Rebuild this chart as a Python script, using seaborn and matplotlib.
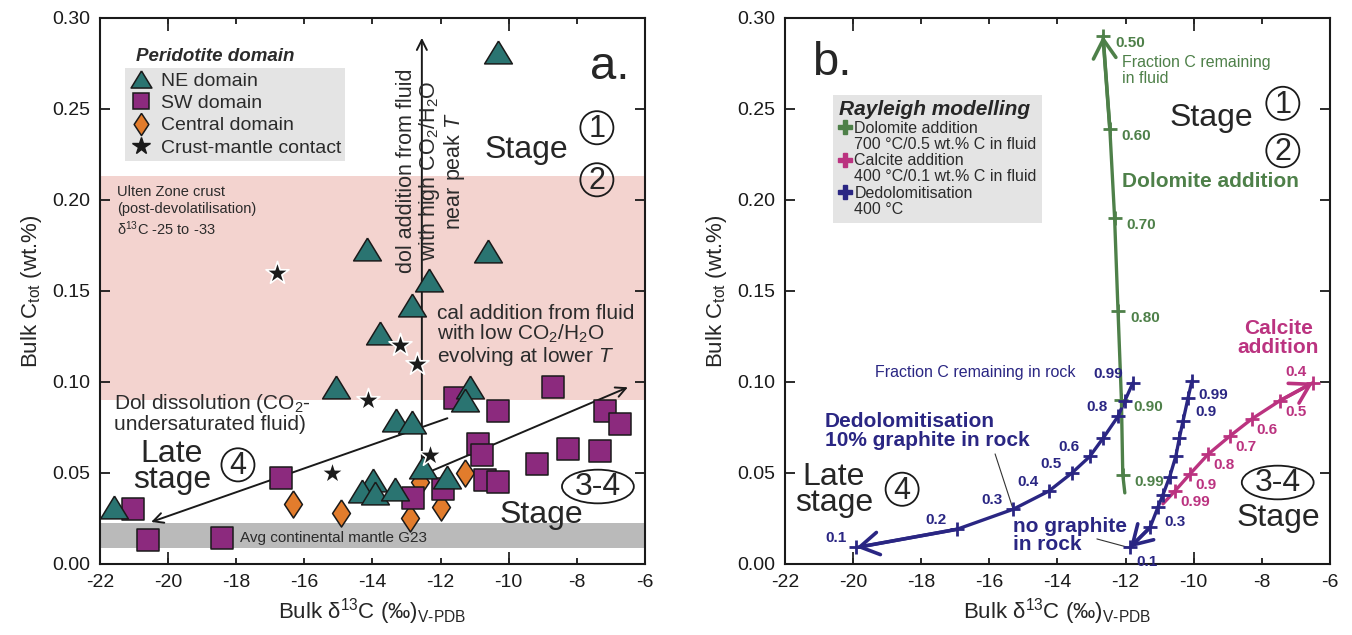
import matplotlib.pyplot as plt
import matplotlib.ticker as mticker
from matplotlib.lines import Line2D
from matplotlib.patches import Ellipse
import pandas as pd
import seaborn as sns

# ---- panel a: bulk samples, d13C (permil) vs Ctot (wt.%) ----
NE_X = [-10.3, -14.15, -10.6, -12.35, -12.85, -13.78, -15.07, -13.3, -12.84,
        -11.14, -11.28, -13.98, -14.3, -13.93, -13.34, -12.52, -11.81, -21.6]
NE_Y = [0.281, 0.173, 0.172, 0.156, 0.142, 0.127, 0.097, 0.079, 0.078,
        0.097, 0.090, 0.046, 0.040, 0.039, 0.041, 0.053, 0.048, 0.031]

SW_X = [-21.03, -20.6, -18.42, -16.7, -12.8, -11.93, -11.58, -10.9, -10.78,
        -10.7, -10.31, -10.31, -8.7, -9.17, -8.26, -7.32, -7.17, -6.73]
SW_Y = [0.030, 0.013, 0.014, 0.047, 0.036, 0.041, 0.091, 0.066, 0.060,
        0.046, 0.045, 0.084, 0.097, 0.055, 0.063, 0.062, 0.084, 0.077]

CEN_X = [-16.33, -14.92, -12.9, -12.0, -12.6, -11.28]
CEN_Y = [0.033, 0.028, 0.025, 0.031, 0.045, 0.050]

STAR_X = [-16.8, -13.19, -12.7, -14.13, -15.19, -12.31]
STAR_Y = [0.160, 0.120, 0.110, 0.090, 0.050, 0.060]

# ---- panel b: Rayleigh model curves (None = no tick, "" = unlabelled tick) ----
DOL_X = [-12.02, -12.08, -12.12, -12.22, -12.32, -12.46, -12.66]
DOL_Y = [0.039, 0.049, 0.090, 0.139, 0.190, 0.239, 0.290]
DOL_LAB = [None, "0.99", "0.90", "0.80", "0.70", "0.60", "0.50"]

DEDG_X = [-11.78, -12.02, -12.22, -12.66, -13.05, -13.57, -14.25, -15.3, -16.95, -19.9]
DEDG_Y = [0.0995, 0.0896, 0.081, 0.069, 0.059, 0.050, 0.040, 0.030, 0.019, 0.009]
DEDG_LAB = ["0.99", "", "0.8", "", "0.6", "0.5", "0.4", "0.3", "0.2", "0.1"]

DEDN_X = [-10.05, -10.16, -10.31, -10.42, -10.52, -10.7, -10.9, -11.05, -11.28, -11.87]
DEDN_Y = [0.1005, 0.0914, 0.0786, 0.069, 0.0593, 0.048, 0.038, 0.031, 0.020, 0.009]
DEDN_LAB = ["0.99", "0.9", "", "", "", "", "", "0.3", "", "0.1"]

CAL_X = [-10.9, -10.55, -10.11, -9.57, -8.93, -8.30, -7.47, -6.49]
CAL_Y = [0.033, 0.040, 0.0493, 0.0603, 0.0703, 0.0795, 0.0896, 0.0996]
CAL_LAB = [None, "0.99", "0.9", "0.8", "0.7", "0.6", "0.5", "0.4"]

TEAL = "#2a7471"
PURPLE = "#8c2a7e"
ORANGE = "#e27c2c"
GREEN = "#4e8049"
MAGENTA = "#bb3380"
NAVY = "#2a2683"
TXT = "#2b2b2b"

TRI = [(0, 0.82), (-1, -0.82), (1, -0.82), (0, 0.82)]
DIAM = [(0, 1), (0.66, 0), (0, -1), (-0.66, 0), (0, 1)]

sns.set_theme(style="ticks")
plt.rcParams["font.family"] = ["Liberation Sans", "DejaVu Sans"]
plt.rcParams["mathtext.fontset"] = "custom"
plt.rcParams["mathtext.rm"] = "Liberation Sans"
plt.rcParams["mathtext.it"] = "Liberation Sans:italic"
plt.rcParams["mathtext.bf"] = "Liberation Sans:bold"
plt.rcParams["axes.unicode_minus"] = False


def style_axes(ax):
    ax.set_xlim(-22, -6)
    ax.set_ylim(0, 0.30)
    ax.xaxis.set_major_locator(mticker.MultipleLocator(2))
    ax.xaxis.set_major_formatter(mticker.FuncFormatter(lambda v, p: f"{v:.0f}"))
    ax.yaxis.set_major_locator(mticker.MultipleLocator(0.05))
    ax.yaxis.set_major_formatter(mticker.FormatStrFormatter("%.2f"))
    ax.xaxis.set_minor_locator(mticker.FixedLocator([-20, -10]))
    ax.xaxis.remove_overlapping_locs = False
    ax.tick_params(which="major", direction="in", top=True, right=True,
                   labelsize=14, pad=7, width=1.3, colors="k")
    ax.tick_params(axis="x", which="major", length=4.5)
    ax.tick_params(axis="y", which="major", length=7)
    ax.tick_params(axis="x", which="minor", direction="in", top=True,
                   length=9, width=1.3)
    for s in ax.spines.values():
        s.set_linewidth(1.5)
        s.set_color("k")
    ax.set_xlabel("Bulk δ$^{13}$C (‰)$_{\\rm V\u2010PDB}$", fontsize=16, labelpad=4)
    ax.set_ylabel(r"Bulk C$_{\rm tot}$ (wt.%)", fontsize=16, labelpad=6)


def circled(ax, x, y, s, w=0.97, h=0.0182, fs=22):
    ax.text(x, y - 0.0008, s, fontsize=fs, ha="center", va="center", zorder=6)
    ax.add_patch(Ellipse((x, y), w, h, fill=False, lw=1.3, ec="k", zorder=6))


def draw_curve(ax, xs, ys, labs, color, dx, dy, ha, end_above=False):
    df = pd.DataFrame({"x": xs, "y": ys})
    sns.lineplot(data=df, x="x", y="y", sort=False, estimator=None, color=color,
                 lw=2.4, ax=ax, zorder=3, legend=False)
    tk = df[[lab is not None for lab in labs]]
    sns.scatterplot(data=tk, x="x", y="y", marker="+", s=90, color=color,
                    linewidth=2.0, ax=ax, zorder=4, legend=False)
    ax.annotate("", xy=(xs[-1], ys[-1]), xytext=(xs[-2], ys[-2]),
                arrowprops=dict(arrowstyle="->,head_length=0.75,head_width=0.45",
                                lw=2.6, color=color, shrinkA=0, shrinkB=0,
                                mutation_scale=18), zorder=4)
    for i, (x, y, lab) in enumerate(zip(xs, ys, labs)):
        if not lab:
            continue
        if end_above and i == len(xs) - 1:
            ax.text(x - 0.5, y + 0.006, lab, color=color, fontsize=11,
                    fontweight="bold", ha="center", va="center")
        else:
            ax.text(x + dx, y + dy, lab, color=color, fontsize=11,
                    fontweight="bold", ha=ha, va="center")


fig = plt.figure(figsize=(13.52, 6.35), dpi=100)
ax_a = fig.add_axes([0.074, 0.112, 0.403, 0.860])
ax_b = fig.add_axes([0.5806, 0.112, 0.403, 0.860])

# ================= panel a =================
ax = ax_a
ax.axhspan(0.09, 0.213, color="#f3d3cf", lw=0, zorder=0)
ax.axhspan(0.0088, 0.0225, color="#bababa", lw=0, zorder=0)

samples = pd.concat([
    pd.DataFrame({"x": CEN_X, "y": CEN_Y, "domain": "Central domain"}),
    pd.DataFrame({"x": SW_X, "y": SW_Y, "domain": "SW domain"}),
    pd.DataFrame({"x": NE_X, "y": NE_Y, "domain": "NE domain"}),
    pd.DataFrame({"x": STAR_X, "y": STAR_Y, "domain": "Crust-mantle contact"}),
])
marker_kw = {
    "Central domain": dict(marker=DIAM, s=380, color=ORANGE, edgecolor="k", linewidth=1.1),
    "SW domain": dict(marker="s", s=260, color=PURPLE, edgecolor="k", linewidth=1.1),
    "NE domain": dict(marker=TRI, s=400, color=TEAL, edgecolor="k", linewidth=1.1),
    "Crust-mantle contact": dict(marker="*", s=300, color="k", edgecolor="white", linewidth=1.2),
}
for dom, kw in marker_kw.items():
    sns.scatterplot(data=samples[samples["domain"] == dom], x="x", y="y",
                    ax=ax, legend=False, zorder=3, **kw)

arrow_kw = dict(arrowstyle="->", lw=1.4, color="k", shrinkA=0, shrinkB=0, mutation_scale=18)
ax.annotate("", xy=(-12.55, 0.289), xytext=(-12.55, 0.053), arrowprops=arrow_kw, zorder=2)
ax.annotate("", xy=(-20.5, 0.023), xytext=(-11.8, 0.080), arrowprops=arrow_kw, zorder=2)
ax.annotate("", xy=(-6.5, 0.097), xytext=(-12.4, 0.050), arrowprops=arrow_kw, zorder=2)

handles = [
    Line2D([], [], ls="", marker=TRI, ms=15, mfc=TEAL, mec="k", mew=1.1),
    Line2D([], [], ls="", marker="s", ms=12, mfc=PURPLE, mec="k", mew=1.1),
    Line2D([], [], ls="", marker=DIAM, ms=16, mfc=ORANGE, mec="k", mew=1.1),
    Line2D([], [], ls="", marker="*", ms=13, mfc="k", mec="k"),
]
leg = ax.legend(handles, ["NE domain", "SW domain", "Central domain", "Crust-mantle contact"],
                loc="upper left", bbox_to_anchor=(0.046, 0.908), frameon=True,
                facecolor="#e4e4e4", edgecolor="none", fancybox=False, framealpha=1,
                fontsize=14, handletextpad=0.45, labelspacing=0.25, borderpad=0.2,
                handlelength=1.2, borderaxespad=0)
for t in leg.get_texts():
    t.set_color(TXT)
ax.text(0.066, 0.93, "Peridotite domain", transform=ax.transAxes, fontsize=13.5,
        fontweight="bold", fontstyle="italic", ha="left", va="center", color=TXT)

ax.text(-7.03, 0.273, "a.", fontsize=34, ha="center", va="center")
ax.text(-9.49, 0.2275, "Stage", fontsize=23, ha="center", va="center")
circled(ax, -7.41, 0.2396, "1")
circled(ax, -7.41, 0.211, "2")
ax.text(-21.5, 0.1934, "Ulten Zone crust\n(post-devolatilisation)\nδ$^{13}$C -25 to -33",
        fontsize=10.5, ha="left", va="center", color=TXT, linespacing=1.25)
ax.text(-12.28, 0.216, "dol addition from fluid\nwith high CO$_2$/H$_2$O\nnear peak $T$",
        rotation=90, fontsize=15.5, ha="center", va="center", multialignment="center",
        linespacing=1.0, color=TXT)
ax.text(-12.1, 0.125, "cal addition from fluid\nwith low CO$_2$/H$_2$O\nevolving at lower $T$",
        fontsize=15, ha="left", va="center", linespacing=1.0, color=TXT)
ax.text(-21.6, 0.083, "Dol dissolution (CO$_2$-\nundersaturated fluid)",
        fontsize=15, ha="left", va="center", linespacing=1.0, color=TXT)
ax.text(-19.89, 0.0533, "Late\nstage", fontsize=23, ha="center", va="center", linespacing=0.85)
circled(ax, -17.95, 0.0544, "4")
ax.text(-7.38, 0.0423, "3-4", fontsize=23, ha="center", va="center")
ax.add_patch(Ellipse((-7.38, 0.0425), 2.11, 0.0185, fill=False, lw=1.3, ec="k", zorder=6))
ax.text(-9.05, 0.027, "Stage", fontsize=23, ha="center", va="center")
ax.text(-17.9, 0.0143, "Avg continental mantle G23", fontsize=11, ha="left", va="center", color=TXT)
style_axes(ax)

# ================= panel b =================
ax = ax_b
draw_curve(ax, DOL_X, DOL_Y, DOL_LAB, GREEN, 0.35, -0.004, "left")
draw_curve(ax, DEDG_X, DEDG_Y, DEDG_LAB, NAVY, -0.3, 0.005, "right")
draw_curve(ax, DEDN_X, DEDN_Y, DEDN_LAB, NAVY, 0.2, -0.008, "left")
draw_curve(ax, CAL_X, CAL_Y, CAL_LAB, MAGENTA, 0.15, -0.006, "left", end_above=True)

bh = [
    Line2D([], [], ls="", marker="P", ms=10, mfc=GREEN, mec=GREEN),
    Line2D([], [], ls="", marker=""),
    Line2D([], [], ls="", marker="P", ms=10, mfc=MAGENTA, mec=MAGENTA),
    Line2D([], [], ls="", marker=""),
    Line2D([], [], ls="", marker="P", ms=10, mfc=NAVY, mec=NAVY),
    Line2D([], [], ls="", marker=""),
]
bl = ["Dolomite addition", "700 °C/0.5 wt.% C in fluid", "Calcite addition",
      "400 °C/0.1 wt.% C in fluid", "Dedolomitisation", "400 °C"]
leg = ax.legend(bh, bl, loc="upper left", bbox_to_anchor=(0.088, 0.859), frameon=True,
                facecolor="#e4e4e4", edgecolor="none", fancybox=False, framealpha=1,
                fontsize=11.5, handletextpad=0.2, labelspacing=0.08, borderpad=0.35,
                handlelength=0.8, borderaxespad=0, title="Rayleigh modelling",
                title_fontproperties={"weight": "bold", "style": "italic", "size": 15},
                alignment="left")
for t in leg.get_texts():
    t.set_color(TXT)

ax.text(-20.62, 0.275, "b.", fontsize=34, ha="center", va="center")
ax.text(-12.1, 0.271, "Fraction C remaining\nin fluid", fontsize=11.5, color=GREEN,
        ha="left", va="center", linespacing=1.1)
ax.text(-9.49, 0.245, "Stage", fontsize=23, ha="center", va="center")
circled(ax, -7.38, 0.253, "1")
circled(ax, -7.38, 0.227, "2")
ax.text(-12.1, 0.210, "Dolomite addition", fontsize=15, fontweight="bold", color=GREEN,
        ha="left", va="center")
ax.text(-19.36, 0.105, "Fraction C remaining in rock", fontsize=11.5, color=NAVY,
        ha="left", va="center")
ax.text(-20.83, 0.073, "Dedolomitisation\n10% graphite in rock", fontsize=15,
        fontweight="bold", color=NAVY, ha="left", va="center", linespacing=1.0)
ax.annotate("", xy=(-15.3, 0.030), xytext=(-15.83, 0.0604),
            arrowprops=dict(arrowstyle="-", lw=0.8, color="#333333", shrinkA=0, shrinkB=0))
ax.text(-15.3, 0.0154, "no graphite\nin rock", fontsize=15, fontweight="bold", color=NAVY,
        ha="left", va="center", linespacing=0.95)
ax.annotate("", xy=(-11.87, 0.0088), xytext=(-12.84, 0.0137),
            arrowprops=dict(arrowstyle="-", lw=0.8, color="#333333", shrinkA=0, shrinkB=0))
ax.text(-7.52, 0.124, "Calcite\naddition", fontsize=15, fontweight="bold", color=MAGENTA,
        ha="center", va="center", linespacing=1.0)
ax.text(-20.56, 0.0407, "Late\nstage", fontsize=23, ha="center", va="center", linespacing=0.85)
circled(ax, -18.56, 0.041, "4")
ax.text(-7.53, 0.0445, "3-4", fontsize=23, ha="center", va="center")
ax.add_patch(Ellipse((-7.53, 0.0447), 2.11, 0.0185, fill=False, lw=1.3, ec="k", zorder=6))
ax.text(-7.5, 0.0253, "Stage", fontsize=23, ha="center", va="center")
style_axes(ax)

fig.savefig("out.png", dpi=100, facecolor="white")
